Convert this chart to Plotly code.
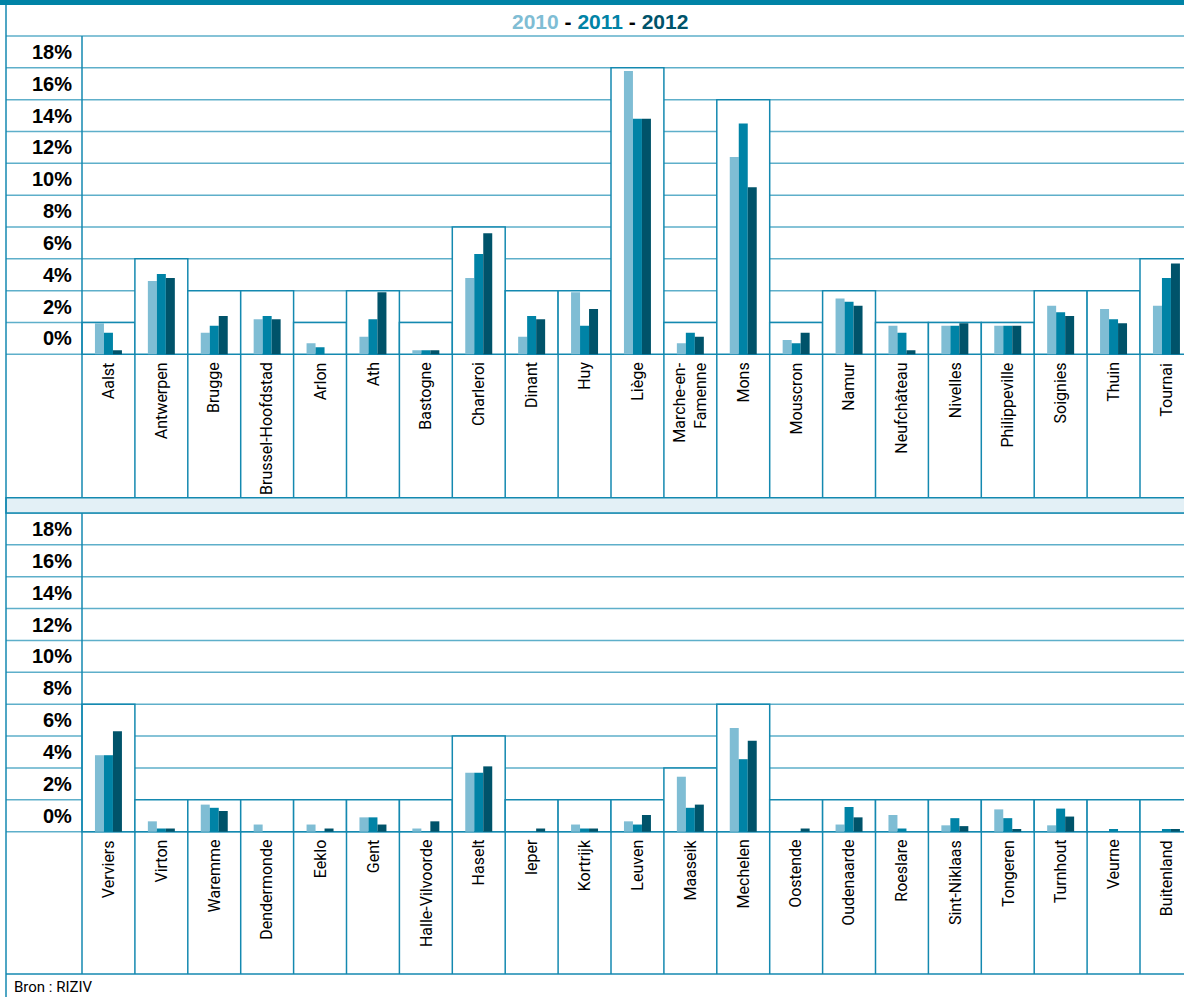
import math

import plotly.graph_objects as go

# ____________________ data : share per region, in % ____________________

years = ["2010", "2011", "2012"]
year_colors = ["#7fbdd4", "#0083a6", "#00536a"]

top_regions = ["Aalst", "Antwerpen", "Brugge", "Brussel-Hoofdstad", "Arlon", "Ath",
               "Bastogne", "Charleroi", "Dinant", "Huy", "Liège", "Marche-en-<br>Famenne",
               "Mons", "Mouscron", "Namur", "Neufchâteau", "Nivelles", "Philippeville",
               "Soignies", "Thuin", "Tournai"]
top_2010 = [1.95, 4.6, 1.35, 2.2, 0.7, 1.1, 0.25, 4.8, 1.1, 3.9, 17.8, 0.7,
            12.4, 0.9, 3.5, 1.8, 1.8, 1.8, 3.05, 2.85, 3.05]
top_2011 = [1.35, 5.05, 1.8, 2.4, 0.45, 2.2, 0.25, 6.3, 2.4, 1.8, 14.8, 1.35,
            14.5, 0.7, 3.3, 1.35, 1.8, 1.8, 2.65, 2.2, 4.8]
top_2012 = [0.25, 4.8, 2.4, 2.2, 0.0, 3.9, 0.25, 7.6, 2.2, 2.85, 14.8, 1.1,
            10.5, 1.35, 3.05, 0.25, 1.95, 1.8, 2.4, 1.95, 5.7]

bottom_regions = ["Verviers", "Virton", "Waremme", "Dendermonde", "Eeklo", "Gent",
                  "Halle-Vilvoorde", "Haselt", "Ieper", "Kortrijk", "Leuven", "Maaseik",
                  "Mechelen", "Oostende", "Oudenaarde", "Roeslare", "Sint-Niklaas",
                  "Tongeren", "Turnhout", "Veurne", "Buitenland"]
bottom_2010 = [4.8, 0.65, 1.7, 0.45, 0.45, 0.9, 0.2, 3.7, 0.0, 0.45, 0.65, 3.45,
               6.5, 0.0, 0.45, 1.05, 0.4, 1.4, 0.4, 0.0, 0.0]
bottom_2011 = [4.8, 0.2, 1.5, 0.0, 0.0, 0.9, 0.0, 3.7, 0.0, 0.2, 0.45, 1.5,
               4.55, 0.0, 1.55, 0.2, 0.85, 0.85, 1.45, 0.17, 0.17]
bottom_2012 = [6.3, 0.2, 1.3, 0.0, 0.2, 0.45, 0.65, 4.1, 0.2, 0.2, 1.05, 1.7,
               5.7, 0.2, 0.9, 0.0, 0.35, 0.17, 0.95, 0.0, 0.17]

y_ticks = list(range(0, 20, 2))   # row labels 0% .. 18%
source = "Bron : RIZIV"

# ____________________ page geometry (pixels) ____________________

W, H = 1184, 997
LEFT_BORDER = 6      # outer frame
FIRST_COL = 82       # left edge of the first region column
COL_W = 52.9
PAD = 4              # extra room so edge lines are not clipped

GRID = "#5eafca"
LINE = "#1489b0"
NARROW = "Roboto, Liberation Sans, sans-serif"
BOLD = "Liberation Sans, Arial, Helvetica, sans-serif"

panels = [
    dict(regions=top_regions, values=[top_2010, top_2011, top_2012], top=36, base=354.3, bottom=497.7),
    dict(regions=bottom_regions, values=[bottom_2010, bottom_2011, bottom_2012], top=513, base=831.7, bottom=974),
]

x_left = -0.5 - (FIRST_COL - LEFT_BORDER) / COL_W
x_right = -0.5 + (W - FIRST_COL) / COL_W

fig = go.Figure()
shapes = []
annotations = []
layout_axes = {}

for k, p in enumerate(panels):
    xa = "x" if k == 0 else "x2"
    ya = "y" if k == 0 else "y2"
    unit = (p["base"] - p["top"]) / 20.0
    y_min = -(p["bottom"] - p["base"]) / unit
    n = len(p["regions"])
    xs = list(range(n))

    for year, color, vals in zip(years, year_colors, p["values"]):
        fig.add_trace(go.Bar(x=xs, y=vals, name=year, marker_color=color,
                             marker_line_width=0, xaxis=xa, yaxis=ya,
                             showlegend=False, hoverinfo="x+y+name"))

    # horizontal rows
    for v in range(0, 21, 2):
        shapes.append(dict(type="line", xref=xa + " domain", yref=ya, x0=0, x1=1, y0=v, y1=v,
                           line=dict(color=GRID, width=1.5), layer="below"))

    # one white box per region, up to the next even row above its highest bar
    for i in xs:
        peak = max(vals[i] for vals in p["values"])
        ceil_row = max(2, math.ceil(peak / 2.0) * 2)
        shapes.append(dict(type="rect", xref=xa, yref=ya, x0=i - 0.5, x1=i + 0.5, y0=0, y1=ceil_row,
                           fillcolor="white", line=dict(color=LINE, width=1.5), layer="below"))

    # column separators in the label zone + label column border
    for b in range(-1, n):
        shapes.append(dict(type="line", xref=xa, yref=ya, x0=b + 0.5, x1=b + 0.5, y0=y_min, y1=0,
                           line=dict(color=LINE, width=1.5), layer="below"))
    shapes.append(dict(type="line", xref=xa, yref=ya, x0=-0.5, x1=-0.5, y0=0, y1=20,
                       line=dict(color=LINE, width=1.5), layer="below"))

    # row labels
    for t in y_ticks:
        annotations.append(dict(xref=xa, yref=ya, x=-0.5, y=t + 1, text="<b>%d%%</b>" % t,
                                xanchor="right", yanchor="middle", xshift=-8, showarrow=False,
                                font=dict(family=BOLD, size=20, color="black")))

    # region names
    for i, name in enumerate(p["regions"]):
        annotations.append(dict(xref=xa, yref=ya, x=i, y=0, text=name, textangle=-90,
                                xanchor="center", yanchor="top", yshift=-6, align="right",
                                showarrow=False, font=dict(family=NARROW, size=16, color="black")))

    dom = [1 - (p["bottom"] + PAD) / H, 1 - (p["top"] - PAD) / H]
    axis_style = dict(showgrid=False, zeroline=False, showticklabels=False, ticks="",
                      showline=False, fixedrange=True)
    layout_axes["xaxis" if k == 0 else "xaxis2"] = dict(
        axis_style, domain=[LEFT_BORDER / W, 1], range=[x_left, x_right], anchor=ya)
    layout_axes["yaxis" if k == 0 else "yaxis2"] = dict(
        axis_style, domain=dom, range=[y_min - PAD / unit, 20 + PAD / unit], anchor=xa)

# ____________________ frame, band, header ____________________

p1, p2 = panels
shapes.append(dict(type="rect", xref="paper", yref="paper", x0=0, x1=1, y0=1 - 5 / H, y1=1,
                   fillcolor="#0083a6", line=dict(width=0)))
shapes.append(dict(type="rect", xref="paper", yref="paper", x0=LEFT_BORDER / W, x1=1.01,
                   y0=1 - p2["top"] / H, y1=1 - p1["bottom"] / H,
                   fillcolor="#e3f0f6", line=dict(color=LINE, width=1.5)))
shapes.append(dict(type="line", xref="paper", yref="paper", x0=LEFT_BORDER / W, x1=1,
                   y0=1 - p2["bottom"] / H, y1=1 - p2["bottom"] / H, line=dict(color=LINE, width=1.5)))
shapes.append(dict(type="line", xref="paper", yref="paper", x0=LEFT_BORDER / W, x1=LEFT_BORDER / W,
                   y0=0, y1=1 - 5 / H, line=dict(color=LINE, width=1.5)))

title = ("<b><span style='color:%s'>2010</span> - <span style='color:%s'>2011</span>"
         " - <span style='color:%s'>2012</span></b>" % tuple(year_colors))
annotations.append(dict(xref="paper", yref="paper", x=600 / W, y=1 - 21 / H, text=title,
                        xanchor="center", yanchor="middle", showarrow=False,
                        font=dict(family=BOLD, size=21, color="black")))
annotations.append(dict(xref="paper", yref="paper", x=12 / W, y=1 - 987 / H, text=source,
                        xanchor="left", yanchor="middle", showarrow=False,
                        font=dict(family=NARROW, size=15, color="black")))

fig.update_layout(
    width=W, height=H,
    margin=dict(l=0, r=0, t=0, b=0),
    paper_bgcolor="white",
    plot_bgcolor="rgba(0,0,0,0)",
    barmode="group", bargap=0.49, bargroupgap=0,
    shapes=shapes,
    annotations=annotations,
    **layout_axes
)

# page body has a default 8px margin: drop it so the figure fills the window
fig.write_html("out.html", config={"displayModeBar": False},
               post_script="document.body.style.margin = '0';")
